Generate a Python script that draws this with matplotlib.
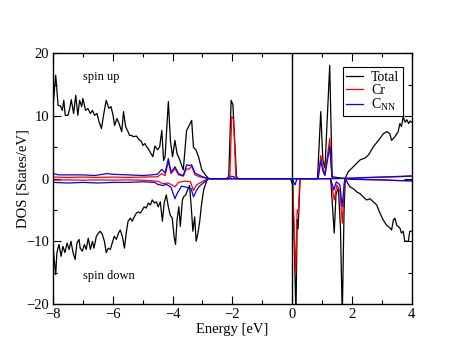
import matplotlib
matplotlib.use("Agg")
import matplotlib.pyplot as plt
from matplotlib.ticker import MultipleLocator

plt.rcParams['font.family'] = ['Liberation Serif', 'DejaVu Serif']
plt.rcParams['mathtext.fontset'] = 'custom'
plt.rcParams['mathtext.rm'] = 'Liberation Serif'
plt.rcParams['mathtext.it'] = 'Liberation Serif'

# ---------------- data ----------------
tot_up_E = [-8.00, -7.91, -7.83, -7.75, -7.69, -7.64, -7.59, -7.50, -7.44, -7.39, -7.31, -7.24,
            -7.17, -7.11, -7.04, -7.00, -6.91, -6.83, -6.75, -6.68, -6.61, -6.53, -6.46, -6.38,
            -6.31, -6.22, -6.13, -6.06, -5.99, -5.94, -5.86, -5.79, -5.70, -5.64, -5.57, -5.49,
            -5.44, -5.37, -5.32, -5.21, -5.12, -5.05, -4.99, -4.92, -4.88, -4.79, -4.71, -4.66,
            -4.59, -4.50, -4.43, -4.36, -4.30, -4.25, -4.14, -4.07, -4.00, -3.92, -3.85, -3.76,
            -3.64, -3.53, -3.44, -3.36, -3.30, -3.22, -3.13, -3.02, -2.90, -2.79, -2.20, -2.12,
            -2.04, -1.98, -1.94, -1.86, -1.80, 0.85, 0.96, 1.03, 1.10, 1.26, 1.34, 1.77,
            1.88, 2.05, 2.15, 2.28, 2.45, 2.56, 2.72, 2.89, 3.06, 3.17, 3.27, 3.33,
            3.44, 3.55, 3.61, 3.66, 3.72, 3.78, 3.84, 3.90, 3.95, 4.00]
tot_up = [11.5, 16.5, 11.7, 11.6, 10.9, 12.5, 10.1, 10.1, 11.2, 12.6, 10.4, 13.3,
          10.1, 12.5, 11.5, 12.8, 10.9, 11.2, 10.4, 10.9, 10.1, 10.4, 9.1, 8.0,
          10.1, 12.5, 11.2, 11.5, 10.1, 8.5, 9.6, 8.8, 7.5, 10.7, 8.3, 7.5,
          6.9, 6.9, 6.7, 6.8, 6.2, 6.0, 5.3, 5.6, 5.2, 4.6, 3.9, 3.5,
          5.2, 4.6, 5.1, 7.7, 2.9, 3.5, 12.3, 6.0, 3.5, 6.1, 4.0, 3.0,
          1.4, 7.7, 8.5, 9.3, 5.0, 4.6, 3.5, 1.4, 0.6, 0.0, 0.0, 0.3,
          12.5, 11.8, 8.0, 0.3, 0.0, 0.0, 10.7, 3.0, 1.7, 18.1, 0.3, 0.0,
          1.1, 1.9, 2.4, 3.0, 3.3, 3.8, 5.1, 6.1, 7.2, 7.5, 7.2, 6.1,
          6.7, 7.5, 8.8, 8.3, 9.9, 9.0, 9.4, 8.8, 9.2, 9.0]

tot_dn_E = [-8.00, -7.94, -7.91, -7.87, -7.80, -7.73, -7.67, -7.60, -7.53, -7.46, -7.40, -7.33,
            -7.26, -7.20, -7.13, -7.09, -7.02, -6.95, -6.89, -6.82, -6.75, -6.68, -6.63, -6.55,
            -6.48, -6.42, -6.35, -6.28, -6.22, -6.15, -6.08, -6.02, -5.95, -5.88, -5.81, -5.75,
            -5.68, -5.61, -5.55, -5.49, -5.41, -5.35, -5.28, -5.21, -5.15, -5.08, -5.01, -4.95,
            -4.88, -4.81, -4.74, -4.68, -4.61, -4.54, -4.48, -4.41, -4.34, -4.28, -4.21, -4.14,
            -4.08, -4.01, -3.95, -3.90, -3.85, -3.79, -3.74, -3.67, -3.63, -3.56, -3.48, -3.43,
            -3.36, -3.32, -3.26, -3.21, -3.15, -3.09, -3.04, -2.96, -2.87, -2.82, -0.05, 0.02,
            0.08, 0.13, 0.17, 0.20, 0.27, 1.28, 1.30, 1.41, 1.47, 1.55, 1.62, 1.68,
            1.74, 1.78, 1.93, 2.05, 2.16, 2.27, 2.38, 2.49, 2.61, 2.72, 2.83, 2.94,
            3.05, 3.16, 3.28, 3.33, 3.39, 3.44, 3.50, 3.61, 3.66, 3.72, 3.77, 3.89,
            3.94, 4.00]
tot_dn = [-10.8, -13.9, -15.3, -11.8, -10.5, -12.4, -10.8, -11.8, -10.3, -11.3, -10.0, -11.8,
          -12.9, -10.3, -9.7, -11.1, -11.6, -10.5, -11.3, -9.5, -11.3, -10.0, -11.1, -9.2,
          -8.7, -8.4, -8.9, -10.0, -11.8, -11.1, -11.3, -10.3, -9.2, -9.7, -8.7, -8.2,
          -9.2, -11.1, -8.7, -6.8, -6.3, -6.8, -6.1, -5.5, -5.3, -5.5, -5.0, -4.5,
          -4.7, -3.9, -4.2, -3.4, -3.9, -3.7, -4.5, -3.7, -6.8, -3.9, -2.6, -4.5,
          -5.8, -6.3, -9.2, -10.5, -6.6, -4.5, -7.6, -3.4, -2.9, -2.6, -1.6, -1.1,
          -5.5, -8.4, -6.1, -10.0, -8.7, -6.8, -4.5, -1.8, -0.5, 0.0, 0.0, -1.0,
          -12.0, -22.0, -6.5, -8.0, 0.0, 0.0, -0.5, -8.7, -2.5, -1.5, -8.0, -22.0,
          -5.0, 0.0, -1.3, -1.6, -2.1, -2.4, -2.9, -3.4, -3.2, -3.7, -4.2, -5.5,
          -6.6, -7.4, -7.9, -8.2, -6.6, -6.3, -7.4, -7.9, -8.7, -8.4, -10.0, -10.0,
          -8.4, -8.4]

cr_up_E = [-8.0, -7.5, -7.0, -6.5, -6.0, -5.5, -5.0, -4.5, -4.36, -4.25, -4.14, -4.05,
           -3.92, -3.80, -3.64, -3.53, -3.45, -3.36, -3.25, -3.10, -2.90, -2.79, -2.15, -2.08,
           -2.02, -1.96, -1.88, -1.82, 0.87, 0.96, 1.05, 1.10, 1.26, 1.34, 2.0, 2.5,
           3.0, 3.5, 4.0]
cr_up = [0.25, 0.2, 0.25, 0.2, 0.25, 0.2, 0.25, 0.3, 0.8, 0.5, 2.7, 0.8,
         1.6, 0.6, 0.4, 1.6, 1.5, 2.0, 0.6, 0.3, 0.1, 0.0, 0.0, 0.5,
         9.9, 9.5, 0.3, 0.0, 0.0, 3.7, 1.5, 0.8, 6.4, 0.0, 0.1, 0.2,
         0.25, 0.35, 0.45]

cr_dn_E = [-8.0, -7.5, -7.0, -6.5, -6.0, -5.5, -5.0, -4.5, -4.33, -4.14, -3.92, -3.80,
           -3.60, -3.40, -3.30, -3.20, -3.05, -2.90, -2.80, 0.00, 0.02, 0.07, 0.12, 0.17,
           0.21, 0.25, 0.28, 1.28, 1.30, 1.41, 1.50, 1.60, 1.68, 1.75, 1.78, 2.0,
           2.5, 3.0, 3.5, 4.0]
cr_dn = [-0.25, -0.2, -0.25, -0.2, -0.25, -0.2, -0.25, -0.4, -0.8, -0.7, -1.3, -0.6,
         -0.4, -0.5, -1.9, -1.0, -0.6, -0.2, 0.0, 0.0, -0.3, -8.0, -15.1, -5.0,
         -5.5, -1.0, 0.0, 0.0, -0.3, -3.4, -1.0, -2.0, -7.1, -1.0, 0.0, -0.1,
         -0.15, -0.2, -0.3, -0.35]

c_up_E = [-8.0, -7.8, -7.5, -7.0, -6.6, -6.2, -6.0, -5.5, -5.0, -4.7, -4.5, -4.36,
          -4.25, -4.14, -4.05, -3.92, -3.80, -3.64, -3.53, -3.45, -3.36, -3.25, -3.13, -3.00,
          -2.85, -2.75, -2.10, -2.03, -1.95, -1.88, 0.87, 0.96, 1.03, 1.10, 1.26, 1.34,
          2.0, 2.5, 3.0, 3.5, 4.0]
c_up = [0.8, 0.6, 0.6, 0.6, 0.5, 0.8, 0.7, 0.6, 0.5, 0.6, 0.7, 1.5,
        0.9, 3.2, 1.0, 1.9, 0.8, 0.5, 2.2, 2.1, 2.2, 0.9, 0.6, 0.3,
        0.1, 0.0, 0.0, 0.4, 0.3, 0.0, 0.0, 2.9, 1.2, 0.5, 5.1, 0.0,
        0.05, 0.15, 0.25, 0.3, 0.4]

c_dn_E = [-8.0, -7.5, -7.0, -6.5, -6.0, -5.5, -5.0, -4.6, -4.5, -4.33, -4.20, -4.05,
          -3.92, -3.85, -3.70, -3.50, -3.38, -3.30, -3.20, -3.10, -2.90, -2.80, 0.00, 0.05,
          0.10, 0.15, 0.20, 1.28, 1.30, 1.40, 1.48, 1.60, 1.68, 1.75, 1.78, 2.0,
          2.5, 3.0, 3.5, 4.0]
c_dn = [-0.6, -0.7, -0.6, -0.7, -0.6, -0.6, -0.5, -0.6, -0.9, -1.1, -0.9, -1.4,
        -3.2, -2.4, -1.2, -1.4, -1.6, -2.9, -1.9, -1.2, -0.4, 0.0, 0.0, -0.5,
        -1.0, -0.2, 0.0, 0.0, -0.2, -1.8, -0.5, -1.0, -4.5, -0.5, 0.0, -0.1,
        -0.15, -0.2, -0.3, -0.35]

legend_labels = ["Total", "Cr", r"C$_{\mathrm{NN}}$"]

# ---------------- plot ----------------
fig = plt.figure(figsize=(4.63, 3.58), dpi=100)
ax = fig.add_axes([0.1145, 0.151, 0.7745, 0.700])

lw = 0.9
l1, = ax.plot(tot_up_E, tot_up, color='black', lw=lw, label=legend_labels[0])
ax.plot(tot_dn_E, tot_dn, color='black', lw=lw)
l2, = ax.plot(cr_up_E, cr_up, color='red', lw=lw, label=legend_labels[1])
ax.plot(cr_dn_E, cr_dn, color='red', lw=lw)
l3, = ax.plot(c_up_E, c_up, color='blue', lw=lw, label=legend_labels[2])
ax.plot(c_dn_E, c_dn, color='blue', lw=lw)
ax.axvline(0, color='black', lw=1.0)

ax.set_xlim(-8, 4)
ax.set_ylim(-20, 20)
ax.xaxis.set_major_locator(MultipleLocator(2))
ax.xaxis.set_minor_locator(MultipleLocator(1))
ax.yaxis.set_major_locator(MultipleLocator(10))
ax.yaxis.set_minor_locator(MultipleLocator(5))
ax.tick_params(which='both', direction='in', top=True, right=True, labelsize=10.5, width=0.8)
ax.tick_params(which='major', length=6, pad=3)
ax.tick_params(which='minor', length=3)
for s in ax.spines.values():
    s.set_linewidth(1.0)

ax.set_xlabel("Energy [eV]", fontsize=10.5, va='center')
ax.set_ylabel("DOS [States/eV]", fontsize=10.5, va='center')
ax.xaxis.set_label_coords(0.5, -0.1)
ax.yaxis.set_label_coords(-0.084, 0.5)

ax.text(-7.0, 16.3, "spin up", fontsize=9, va='center', ha='left')
ax.text(-7.0, -15.6, "spin down", fontsize=9, va='center', ha='left')

leg = ax.legend(handles=[l1, l2, l3], loc='upper right', fontsize=10, frameon=True,
                fancybox=False, edgecolor='black', framealpha=1, handlelength=1.2,
                handletextpad=0.6, borderpad=0.25, labelspacing=0.0,
                borderaxespad=0, bbox_to_anchor=(0.976, 0.945))
leg.get_frame().set_linewidth(0.8)

fig.savefig("out.png", dpi=100)
